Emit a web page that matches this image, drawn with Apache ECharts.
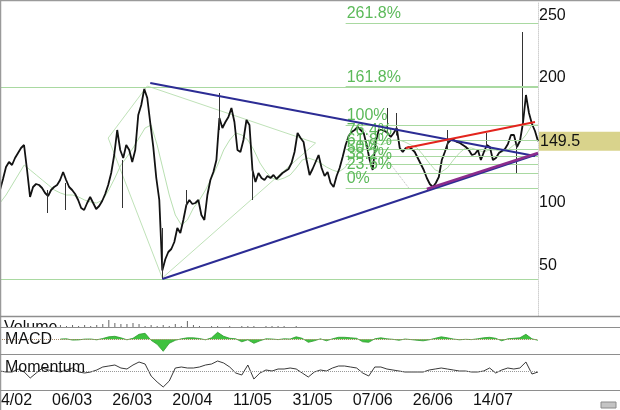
<!DOCTYPE html>
<html><head><meta charset="utf-8">
<script src="https://cdn.jsdelivr.net/npm/echarts@6/dist/echarts.min.js"></script>
<style>html,body{margin:0;padding:0;background:#fff}#c{width:620px;height:410px}</style>
</head><body><div id="c"></div>
<script>
// ---------- data ----------
const priceClose = [
110.4,119.2,128.8,132.8,130.4,136,140,144,146.4,126.4,
104.8,112.8,115.2,114.4,112,108,105.6,110.4,112.8,114.4,
118.4,124.8,118.4,112.8,110.4,107.2,102.4,96,94.4,100,
104.8,100,95.2,97.6,101.6,107.2,114.4,124,138.4,158.4,
142.4,136,146.4,142.4,132.8,142.4,170.4,178.4,191.2,184,
164,144.8,120,102.4,46,55,60.8,63.2,68.8,80,
76,86.4,98.4,102.4,99.2,100,102.4,90.4,86.4,106.4,
118.4,124.8,134.4,168,160,164.8,168.8,176,164.8,142.4,
140.8,150.4,166.4,162.4,126.4,116.8,124,120,118.4,121.6,
120,122.4,119.2,121.6,124,125.6,127.2,132,140.8,156,
152,148.8,134.4,122.4,127.2,132.8,138.4,128,121.6,124.8,
116,112.8,121.6,128,136.8,146.4,153.6,156.8,158.4,160.8,
158.4,156,146.4,134.4,126.4,148.8,158.4,158.4,157.6,156,
152.8,156,160,144,140.8,144,144.8,143.2,140.8,136,
131.2,126.4,120,115.2,112.8,116,120.8,134.4,140.8,148,
150.4,150.4,148.8,148,146.4,144.8,142.4,138.4,139.2,142.4,
134.4,140.8,146.4,144.8,134.4,136,140,141.6,143.2,147.2,
154.4,154.4,144.8,149.6,164,186.4,172,163.2,157.6,149.5
];
// [day index, low, high] of the long single-day bars
const spikes = [
[16,92,110.4],[22,94.4,116],[41,96,134.4],[54,38.4,80],[62,98,110.4],
[73,158.4,188],[84,102.4,126.4],[129,156,176],[132,154,172],[149,142.4,158.4],
[162,145,156],[172,124,148],[174,164,236.8]
];
const movingAvg = [
100,106.4,114.4,122.4,130.4,126.4,122.4,118.4,114.4,110.4,
108,106.4,106.4,104.8,102.4,100.8,100,102.4,110.4,120,
130.4,136.8,144,152,160,162.4,146.4,126.4,106.4,90.4,
82.4,86.4,96,102.4,110.4,120,130.4,142.4,150.4,156,
154.4,150.4,142.4,132,124.8,120,118.4,120,122.4,128,
134.4,136,134.4,132,128.8,126.4,124.8,128,134.4,142.4,
148.8,150.4,148.8,146.4,148,150.4,150.4,148.8,146.4,144,
138.4,132,126.4,124.8,128,134.4,140,144,144,142.4,
140.8,142.4,142.4,140.8,142.4,146.4,148.8,154.4,162.4,162.4
];
const fibLabels = ['261.8%','161.8%','100%','76.4%','61.8%','50%','38.2%','23.6%','0%'];
const fibPrices = [244.0,193.5,162.4,150.5,143.1,137.2,131.3,123.9,112.0];
const fibStartDay = 115;
const levelPrices = [192.6, 39.2];
const blueLines = [ [[50,196],[178,137.6]], [[54,39.2],[179,139.2]] ];
const redLine = [[135,144],[178,164.8]];
const purpleLine = [[142,111.2],[179,140]];
const fibDiagonal = [[120,162.4],[136,112]];
const fanLines = [
  [[36,152],[49,193.6]], [[36,152],[54,40]],
  [[49,193.6],[105,148]], [[54,40],[105,148]]
];
const lastPrice = 149.5;
const priceTicks = [50,100,149.5,200,250];
const tickDays = [4,24,44,64,84,104,124,144,164];
const tickLabels = ['14/02','06/03','26/03','20/04','11/05','31/05','07/06','26/06','14/07'];
const macd = [
null,null,null,null,null,null,null,null,null,null,
0.3,0.5,-0.8,-0.6,0.2,0.3,-0.5,0.8,2.5,3,
1.5,-0.5,1,5,6,-1,-5,-12,-4,-1,
0.5,1.5,1.5,0.8,-0.5,1.5,7,3,1,0.5,
-2.5,-0.5,-4,-1.5,0.5,0.3,-0.3,0.5,0.3,2.5,
1,-3,-1.5,0.5,-1.5,0.5,2,2,1.5,1,
-2.5,-3,0.5,1.5,0.5,0,-1,0.3,-0.3,-1,
-1.5,-0.5,1,2.5,1.5,0.3,-0.5,0,-0.3,0.5,
1.5,2,1,-1.5,0.5,1,1.5,5,0.5,-1
];
const momentum = [
0,-1,-1,2,-1,-7,-2,3,1,0,
-1,1,3,-1,-2,-1,1,4,5,6,
3,2,6,9,7,-5,-11,-16,-10,3,
4,3,3,4,6,7,10,8,4,-2,
-4,6,-8,-2,1,0,2,2,3,2,
-2,-6,-1,1,0,3,5,5,4,3,
-2,-5,4,4,2,1,0,-1,-1,-1,
-1,1,2,3,2,1,0,0,-1,-1,
0,3,-2,1,3,2,3,9,-3,-1
];
const volume = [
0,0,0,0,0,0,0,0,0,0,
2,1,2,1,2,1,2,3,7,4,
3,3,4,3,1,2,1,2,1,3,
1,6,2,1,0,1,1,0,1,0,
1,1,1,0,1,1,1,1,0,1,
0,0,0,0,0,0,0,0,0,0,
0,0,0,0,0,0,0,0,0,0,
0,0,0,0,0,0,0,0,0,0,
0,0,0,0,0,0,0,0,0,0
];

// ---------- chart ----------
const FONT = '"Liberation Sans", Arial, Helvetica, sans-serif';
const N = priceClose.length;
const mainCats = priceClose.map((_, i) => String(i));
const subCats = momentum.map((_, i) => String(i));
const dateCats = mainCats.map(() => '');
tickDays.forEach((d, k) => { dateCats[d] = tickLabels[k]; });
const candle = priceClose.map(() => '-');
spikes.forEach(([d, lo, hi]) => { candle[d] = [lo, lo, lo, hi]; });

const GREEN_LINE = '#a9d9a1';
const GREEN_TEXT = '#5cba5a';

const fibMark = fibPrices.map((p, k) => [
  { coord: [fibStartDay, p], label: { formatter: fibLabels[k] } },
  { coord: [N - 1, p] }
]);
const levelMark = levelPrices.map(p => [
  { coord: [0, p], label: { show: false } },
  { coord: [N - 1, p] }
]);

function seg(data, color, width, z, type) {
  return { type: 'line', xAxisIndex: 0, yAxisIndex: 0, data, symbol: 'none', silent: true,
    lineStyle: { color, width, type: type || 'solid' }, z, animation: false };
}

const fibHost = seg(fibDiagonal, '#bbbbbb', 1, 1, 'dotted');
fibHost.markLine = { silent: true, symbol: 'none', animation: false,
  lineStyle: { color: GREEN_LINE, width: 1, type: 'solid' },
  label: { position: 'insideStartTop', color: GREEN_TEXT, fontSize: 16, fontFamily: FONT, distance: [1, 1] },
  data: fibMark.concat(levelMark) };

const grids = [
  { left: 0, top: 2, width: 538, height: 314 },
  { left: 0, top: 317, width: 538, height: 10 },
  { left: 0, top: 328, width: 538, height: 26 },
  { left: 0, top: 355, width: 538, height: 35 }
].map(g => Object.assign(g, { outerBoundsMode: 'none', containLabel: false }));

const series = [
  fibHost,
  { type: 'line', xAxisIndex: 5, yAxisIndex: 0, data: movingAvg, symbol: 'none', silent: true,
    lineStyle: { color: '#b8dfb1', width: 1 }, z: 1, animation: false },
  ...fanLines.map(l => seg(l, '#bfe2b8', 1, 1)),
  { type: 'line', xAxisIndex: 0, yAxisIndex: 0, data: priceClose, symbol: 'none', silent: true,
    lineStyle: { color: '#121212', width: 1.8 }, z: 3, animation: false },
  { type: 'candlestick', xAxisIndex: 0, yAxisIndex: 0, data: candle, barWidth: 1, silent: true, z: 3,
    animation: false,
    itemStyle: { color: '#333', color0: '#333', borderColor: '#333', borderColor0: '#333', borderWidth: 1 } },
  ...blueLines.map(l => seg(l, '#2c2c94', 2, 5)),
  seg(redLine, '#e3241d', 2, 5),
  seg(purpleLine, '#8c2c8c', 2.5, 6),
  { type: 'bar', xAxisIndex: 1, yAxisIndex: 1, data: volume, barWidth: 1, silent: true,
    itemStyle: { color: '#666' }, animation: false },
  { type: 'line', xAxisIndex: 2, yAxisIndex: 2, data: macd, symbol: 'none', silent: true,
    lineStyle: { color: '#2f9a2f', width: 0.8 }, areaStyle: { color: '#3fc23f', opacity: 1 }, z: 3,
    animation: false,
    markLine: { silent: true, symbol: 'none', animation: false, label: { show: false },
      lineStyle: { color: '#a88a66', width: 1, type: 'dotted' }, data: [{ yAxis: 0 }] } },
  { type: 'line', xAxisIndex: 3, yAxisIndex: 3, data: momentum, symbol: 'none', silent: true,
    lineStyle: { color: '#222', width: 0.9 }, z: 3, animation: false,
    markLine: { silent: true, symbol: 'none', animation: false, label: { show: false },
      lineStyle: { color: '#999', width: 1, type: 'dotted' }, data: [{ yAxis: 0 }] } }
];

const hidden = { show: false };
const option = {
  backgroundColor: '#ffffff',
  animation: false,
  grid: grids,
  xAxis: [
    { type: 'category', gridIndex: 0, data: mainCats, boundaryGap: false, show: false },
    { type: 'category', gridIndex: 1, data: subCats, boundaryGap: false, show: false },
    { type: 'category', gridIndex: 2, data: subCats, boundaryGap: false, show: false },
    { type: 'category', gridIndex: 3, data: subCats, boundaryGap: false, show: false },
    { type: 'category', gridIndex: 3, data: dateCats, boundaryGap: false, position: 'bottom',
      axisLine: hidden, axisTick: hidden, splitLine: hidden,
      axisLabel: { interval: 0, margin: 3, fontSize: 16, color: '#111', fontFamily: FONT,
        alignMinLabel: 'center', alignMaxLabel: 'center' } },
    { type: 'category', gridIndex: 0, data: subCats, boundaryGap: false, show: false }
  ],
  yAxis: [
    { type: 'value', gridIndex: 0, position: 'right', min: 9.6, max: 260.8,
      splitLine: hidden, axisTick: hidden,
      axisLine: { show: true, lineStyle: { color: '#d0d0d0', type: 'dotted', width: 1 } },
      axisLabel: { customValues: priceTicks, margin: 1, fontSize: 16, color: '#111', fontFamily: FONT,
        formatter: v => (v === lastPrice ? '{hl|' + v + '}' : String(v)),
        rich: { hl: { backgroundColor: '#d9d38c', padding: [2, 42, 1, 1], fontSize: 16, color: '#111', fontFamily: FONT } } } },
    { type: 'value', gridIndex: 1, min: 0, max: 10, show: false },
    { type: 'value', gridIndex: 2, min: -14.7, max: 11.3, show: false },
    { type: 'value', gridIndex: 3, min: -19, max: 16, show: false }
  ],
  series,
  graphic: [
    { type: 'text', x: 4, y: 327.5, z: 100, style: { text: 'Volume', font: '16px ' + FONT, fill: '#111', verticalAlign: 'middle' } },
    { type: 'rect', z: 101, shape: { x: 0, y: 327.5, width: 100, height: 8 }, style: { fill: '#fff' } },
    { type: 'text', x: 5, y: 339.5, z: 103, style: { text: 'MACD', font: '16px ' + FONT, fill: '#111', verticalAlign: 'middle' } },
    { type: 'text', x: 5, y: 367.5, z: 103, style: { text: 'Momentum', font: '16px ' + FONT, fill: '#111', verticalAlign: 'middle' } },
    { type: 'line', z: 104, shape: { x1: 0, y1: 0.5, x2: 620, y2: 0.5 }, style: { stroke: '#9a9a9a', lineWidth: 1.5 } },
    { type: 'line', z: 104, shape: { x1: 0.5, y1: 0, x2: 0.5, y2: 410 }, style: { stroke: '#9a9a9a', lineWidth: 1.5 } },
    { type: 'line', z: 104, shape: { x1: 0, y1: 316.5, x2: 620, y2: 316.5 }, style: { stroke: '#8e8e8e', lineWidth: 1.5 } },
    { type: 'line', z: 104, shape: { x1: 0, y1: 327.5, x2: 620, y2: 327.5 }, style: { stroke: '#8e8e8e', lineWidth: 1.2 } },
    { type: 'line', z: 104, shape: { x1: 0, y1: 354.5, x2: 620, y2: 354.5 }, style: { stroke: '#8e8e8e', lineWidth: 1.2 } },
    { type: 'line', z: 104, shape: { x1: 0, y1: 390.5, x2: 620, y2: 390.5 }, style: { stroke: '#8e8e8e', lineWidth: 1.2 } },
    { type: 'rect', z: 104, shape: { x: 601, y: 402, width: 15, height: 6 }, style: { fill: '#c4c4c4', stroke: '#8a8a8a', lineWidth: 1 } }
  ]
};
const chart = echarts.init(document.getElementById('c'), null, { renderer: 'canvas' });
chart.setOption(option);
</script></body></html>
